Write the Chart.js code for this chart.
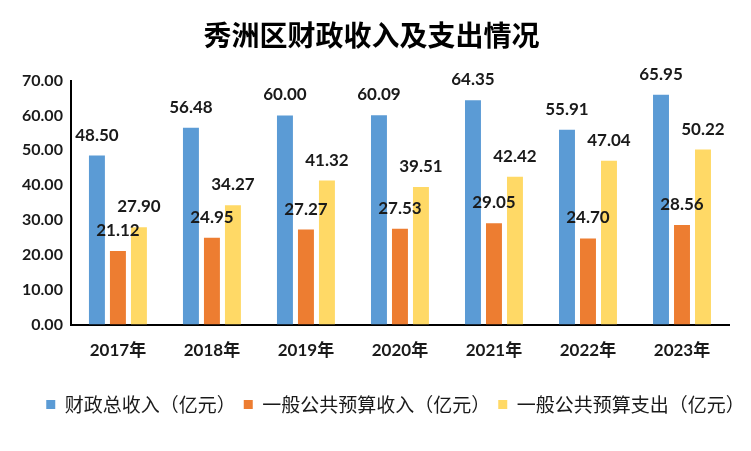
<!DOCTYPE html>
<html><head><meta charset="utf-8">
<script src="https://cdn.jsdelivr.net/npm/chart.js@4/dist/chart.umd.min.js"></script>
<style>html,body{margin:0;padding:0;background:#fff;}canvas{display:block;}</style>
</head><body>
<canvas id="c" width="751" height="451"></canvas>
<script>
const categories = ['2017年','2018年','2019年','2020年','2021年','2022年','2023年'];
const totalRevenue = [48.50,56.48,60.00,60.09,64.35,55.91,65.95];
const publicBudgetRevenue = [21.12,24.95,27.27,27.53,29.05,24.70,28.56];
const publicBudgetExpenditure = [27.90,34.27,41.32,39.51,42.42,47.04,50.22];
const seriesNames = ['财政总收入（亿元）','一般公共预算收入（亿元）','一般公共预算支出（亿元）'];

const numFont = "Lato, 'Noto Sans CJK SC', sans-serif";
const cjkFont = "'Noto Sans CJK SC', sans-serif";

const labelPlugin = {
  id: 'labels',
  afterDatasetsDraw(chart) {
    const ctx = chart.ctx;
    ctx.save();
    ctx.font = "bold 17px " + numFont;
    ctx.fillStyle = '#1a1a1a';
    ctx.textAlign = 'center';
    ctx.textBaseline = 'bottom';
    chart.data.datasets.forEach((ds, i) => {
      const meta = chart.getDatasetMeta(i);
      meta.data.forEach((bar, j) => {
        ctx.fillText(ds.data[j].toFixed(2), bar.x, bar.y - 12);
      });
    });
    ctx.restore();
  }
};

const legendShift = {
  id: 'legendShift',
  afterLayout(chart) {
    if (chart.legend) { chart.legend.left += 24; chart.legend.right += 24; }
  }
};

new Chart(document.getElementById('c'), {
  type: 'bar',
  data: {
    labels: categories,
    datasets: [
      {label: seriesNames[0], data: totalRevenue, backgroundColor: '#5B9BD5'},
      {label: seriesNames[1], data: publicBudgetRevenue, backgroundColor: '#ED7D31'},
      {label: seriesNames[2], data: publicBudgetExpenditure, backgroundColor: '#FFD966'}
    ]
  },
  options: {
    responsive: false,
    animation: false,
    devicePixelRatio: 1,
    layout: {padding: {left: 14, right: 22, top: 0, bottom: 27}},
    datasets: {bar: {categoryPercentage: 0.67, barPercentage: 0.76}},
    plugins: {
      title: {display: true, text: '秀洲区财政收入及支出情况', color: '#000',
        font: {family: cjkFont, size: 28, weight: 'bold'}, padding: {top: 19, bottom: 28}},
      legend: {position: 'bottom', labels: {boxWidth: 9, boxHeight: 9, color: '#1a1a1a', padding: 8,
        font: {family: cjkFont, size: 19}}},
      tooltip: {enabled: false}
    },
    scales: {
      x: {grid: {display: false, drawTicks: false}, border: {color: '#000', width: 2},
        afterFit: s => { s.height += 10; },
        ticks: {color: '#1a1a1a', padding: 16, font: {family: numFont, size: 17, weight: 'bold'}}},
      y: {min: 0, max: 70, grid: {display: false, drawTicks: false}, border: {color: '#000', width: 2},
        ticks: {stepSize: 10, color: '#1a1a1a', padding: 8, callback: v => v.toFixed(2),
          font: {family: numFont, size: 16, weight: 'bold'}}}
    }
  },
  plugins: [labelPlugin, legendShift]
});
</script>
</body></html>
